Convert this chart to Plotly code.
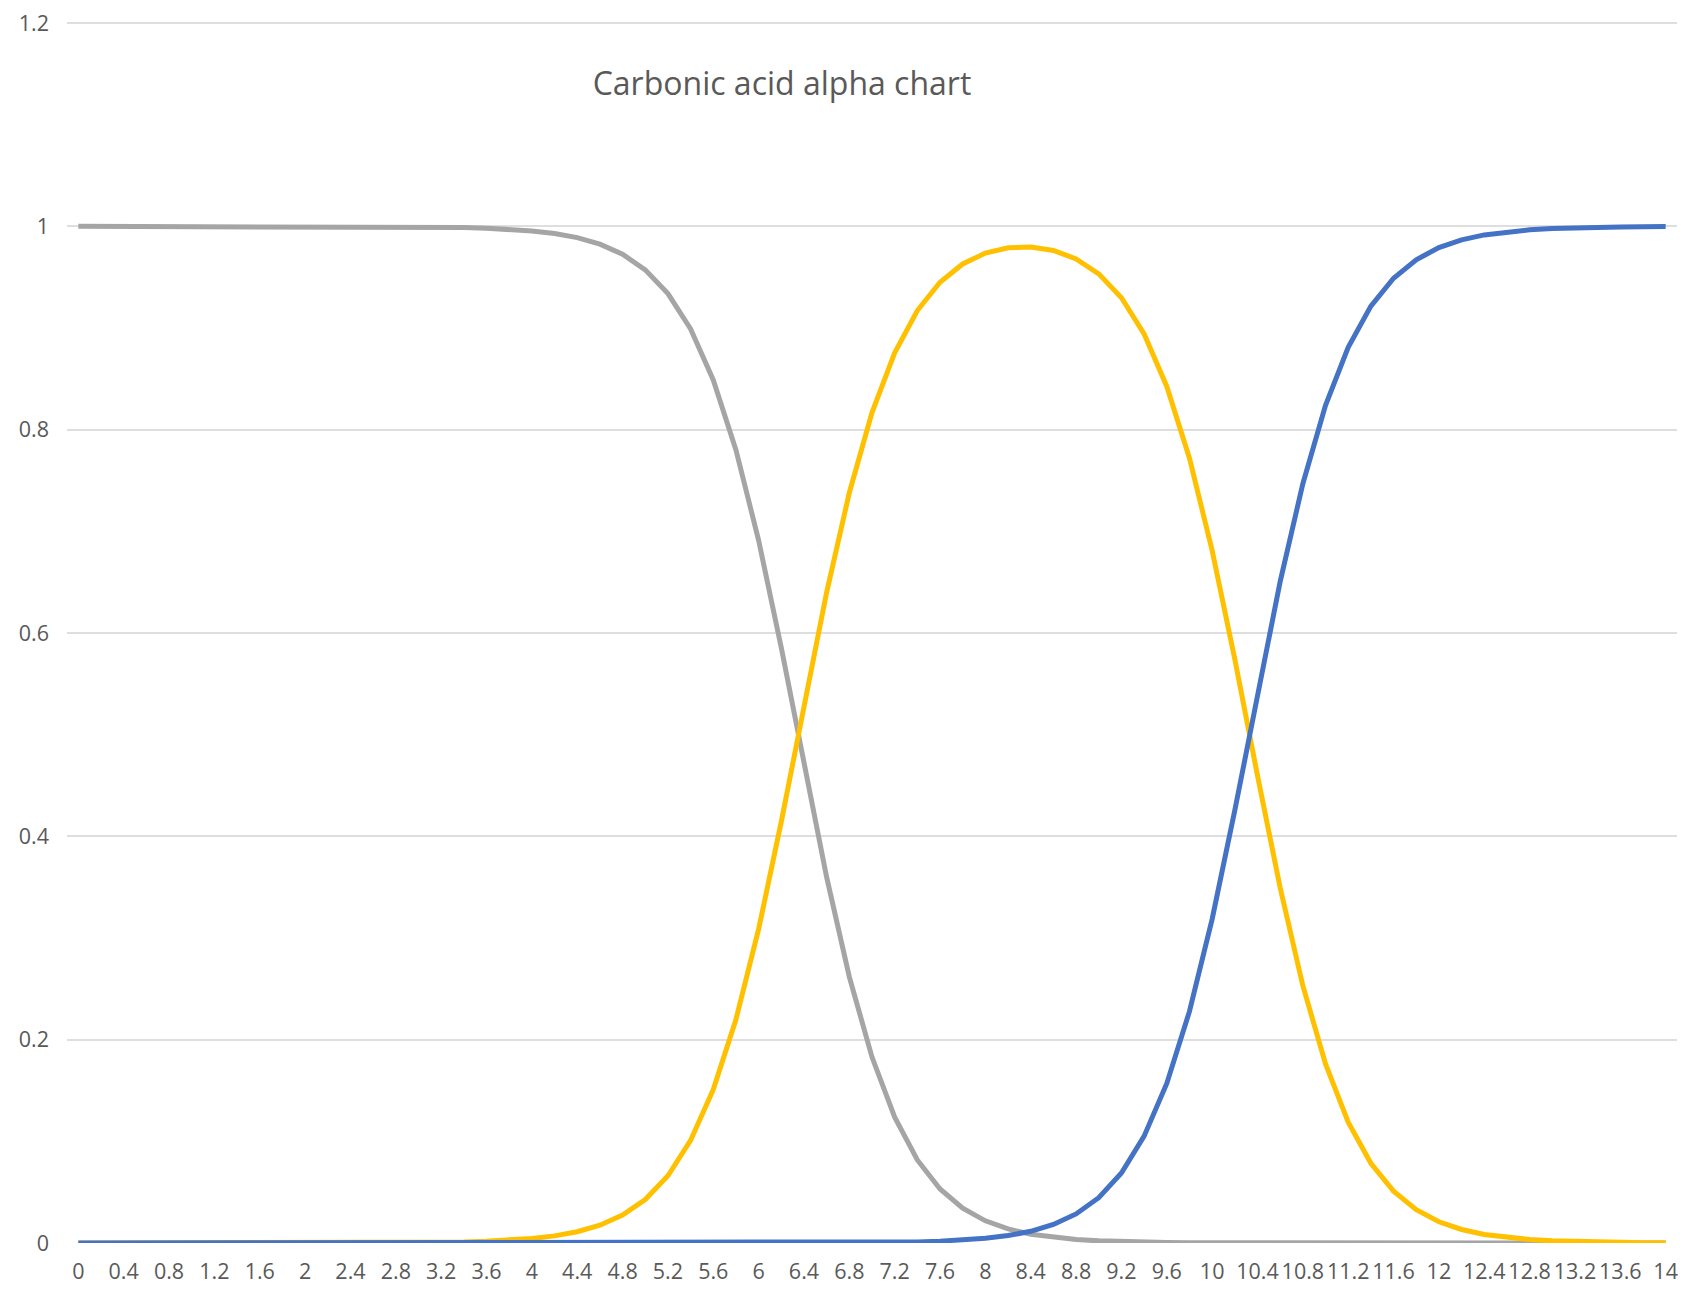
import plotly.graph_objects as go

ph = [0, 0.2, 0.4, 0.6, 0.8, 1, 1.2, 1.4, 1.6, 1.8, 2, 2.2, 2.4, 2.6, 2.8, 3, 3.2, 3.4, 3.6, 3.8,
      4, 4.2, 4.4, 4.6, 4.8, 5, 5.2, 5.4, 5.6, 5.8, 6, 6.2, 6.4, 6.6, 6.8, 7, 7.2, 7.4, 7.6, 7.8,
      8, 8.2, 8.4, 8.6, 8.8, 9, 9.2, 9.4, 9.6, 9.8, 10, 10.2, 10.4, 10.6, 10.8, 11, 11.2, 11.4, 11.6, 11.8,
      12, 12.2, 12.4, 12.6, 12.8, 13, 13.2, 13.4, 13.6, 13.8, 14]

h2co3 = [1.0, 1.0, 1.0, 1.0, 1.0, 1.0, 1.0, 1.0, 1.0, 1.0, 1.0, 1.0, 0.9999, 0.9998, 0.9997, 0.9996, 0.9993, 0.9989, 0.9982, 0.9972,
         0.9955, 0.9930, 0.9889, 0.9825, 0.9726, 0.9572, 0.9339, 0.8991, 0.8490, 0.7801, 0.6912, 0.5855, 0.4712, 0.3599, 0.2618, 0.1829, 0.1237, 0.0817, 0.0532, 0.0342,
         0.0218, 0.0138, 0.0087, 0.0055, 0.0034, 0.0021, 0.0013, 0.0008, 0.0005, 0.0003, 0.0002, 0.0001, 0.0, 0.0, 0.0, 0.0, 0.0, 0.0, 0.0, 0.0,
         0.0, 0.0, 0.0, 0.0, 0.0, 0.0, 0.0, 0.0, 0.0, 0.0, 0.0]

hco3 = [0.0, 0.0, 0.0, 0.0, 0.0, 0.0, 0.0, 0.0, 0.0, 0.0, 0.0, 0.0, 0.0001, 0.0002, 0.0003, 0.0004, 0.0007, 0.0011, 0.0018, 0.0028,
        0.0045, 0.0070, 0.0111, 0.0175, 0.0274, 0.0428, 0.0661, 0.1009, 0.1510, 0.2199, 0.3088, 0.4145, 0.5287, 0.6400, 0.7380, 0.8168, 0.8757, 0.9172, 0.9451, 0.9630,
        0.9737, 0.9789, 0.9798, 0.9763, 0.9680, 0.9533, 0.9298, 0.8942, 0.8426, 0.7719, 0.6812, 0.5742, 0.4598, 0.3494, 0.2531, 0.1761, 0.1189, 0.0784, 0.0510, 0.0328,
        0.0209, 0.0133, 0.0084, 0.0053, 0.0034, 0.0021, 0.0014, 0.0009, 0.0005, 0.0003, 0.0002]

co3 = [0.0, 0.0, 0.0, 0.0, 0.0, 0.0, 0.0, 0.0, 0.0, 0.0, 0.0, 0.0, 0.0, 0.0, 0.0, 0.0, 0.0, 0.0, 0.0, 0.0,
       0.0, 0.0, 0.0, 0.0, 0.0, 0.0, 0.0, 0.0, 0.0, 0.0, 0.0, 0.0, 0.0001, 0.0001, 0.0002, 0.0004, 0.0007, 0.0011, 0.0018, 0.0028,
       0.0046, 0.0073, 0.0115, 0.0182, 0.0286, 0.0446, 0.0689, 0.1051, 0.1569, 0.2278, 0.3186, 0.4257, 0.5402, 0.6506, 0.7469, 0.8239, 0.8811, 0.9216, 0.9490, 0.9672,
       0.9791, 0.9867, 0.9916, 0.9947, 0.9966, 0.9979, 0.9987, 0.9992, 0.9995, 0.9997, 0.9998]

x_ticks = [0, 0.4, 0.8, 1.2, 1.6, 2, 2.4, 2.8, 3.2, 3.6, 4, 4.4, 4.8, 5.2, 5.6, 6, 6.4, 6.8, 7.2, 7.6,
           8, 8.4, 8.8, 9.2, 9.6, 10, 10.4, 10.8, 11.2, 11.6, 12, 12.4, 12.8, 13.2, 13.6, 14]
y_ticks = [0, 0.2, 0.4, 0.6, 0.8, 1, 1.2]

# the page body has an 8px default margin, so the figure is drawn 8px smaller
W, H = 1688, 1281
FONT = "Open Sans"
TXT = "#595959"

fig = go.Figure()
for name, ys, col in [("H2CO3", h2co3, "#A5A5A5"), ("HCO3-", hco3, "#FFC000"), ("CO3 2-", co3, "#4472C4")]:
    fig.add_trace(go.Scatter(x=ph, y=ys, mode="lines", name=name,
                             line=dict(color=col, width=5, shape="linear"), cliponaxis=False))

fig.update_layout(
    width=W, height=H,
    margin=dict(l=59, r=19, t=12, b=46, autoexpand=False),
    paper_bgcolor="white", plot_bgcolor="white",
    showlegend=False,
    font=dict(family=FONT, color=TXT, size=21),
    title=dict(text="Carbonic acid alpha chart", xref="container", yref="container",
               x=774 / W, y=1 - 76 / H, xanchor="center", yanchor="middle",
               font=dict(family=FONT, size=32, color=TXT)),
)
fig.update_xaxes(range=[-0.1, 14.1], tickmode="array", tickvals=x_ticks,
                 ticktext=[f"{v:g}" for v in x_ticks], showgrid=False, zeroline=False,
                 showline=False, ticks="", ticklabelstandoff=13, tickangle=0, automargin=False,
                 ticklabeloverflow="allow",
                 tickfont=dict(size=21.5, color=TXT, family=FONT))
fig.update_yaxes(range=[0, 1.203], tickmode="array", tickvals=y_ticks,
                 ticktext=[f"{v:g}" for v in y_ticks], showgrid=True, gridcolor="#DEDEDE",
                 gridwidth=2, zeroline=False, showline=False, ticks="", ticklabelstandoff=17,
                 automargin=False, ticklabeloverflow="allow",
                 tickfont=dict(size=21.5, color=TXT, family=FONT))

fig.write_html("out.html")
